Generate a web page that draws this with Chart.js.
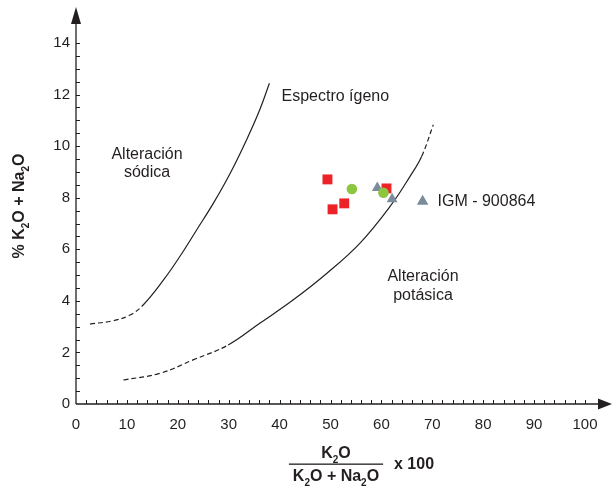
<!DOCTYPE html>
<html>
<head>
<meta charset="utf-8">
<script src="https://cdn.jsdelivr.net/npm/chart.js@4.4.1/dist/chart.umd.min.js"></script>
<style>
  html, body { margin: 0; padding: 0; background: #fff; }
  #wrap { width: 613px; height: 489px; }
</style>
</head>
<body>
<div id="wrap"><canvas id="grafico" width="613" height="489"></canvas></div>
<script>
// Curva límite sódica (la parte baja va punteada)
const sodicaX = [2.75, 7.3, 10.6, 13.2, 17.2, 20.4, 23.7, 27.0, 30.3, 33.5, 36.1, 38.0];
const sodicaY = [3.10, 3.23, 3.45, 3.84, 4.81, 5.72, 6.75, 7.79, 8.95, 10.24, 11.41, 12.44];
const sodicaDashHasta = 13.2;

// Curva límite potásica (punteada al inicio y al final)
const potasicaX = [9.3, 16.5, 23.0, 29.9, 36.1, 42.7, 49.3, 55.8, 61.7, 65.6, 67.9, 70.2];
const potasicaY = [0.93, 1.19, 1.71, 2.29, 3.13, 4.04, 5.07, 6.24, 7.66, 8.82, 9.60, 10.83];
const potasicaDashHasta = 29.9;
const potasicaDashDesde = 67.9;

// Muestras
const rojosX = [49.4, 50.4, 52.7, 61.0];
const rojosY = [8.71, 7.55, 7.78, 8.36];
const verdesX = [54.2, 60.4];
const verdesY = [8.34, 8.19];
const igmX = [59.2, 62.1];
const igmY = [8.38, 7.95];
const igmNombre = "IGM - 900864";

// Ticks
const xTicks = [0, 10, 20, 30, 40, 50, 60, 70, 80, 90, 100];
const yTicks = [0, 2, 4, 6, 8, 10, 12, 14];

const TXT = "#231f20";
const FUENTE = '"Liberation Sans", Arial, Helvetica, sans-serif';

const pares = (xs, ys) => xs.map((x, i) => ({ x, y: ys[i] }));

// Texto con subíndices: partes = [[texto, esSub], ...]
function textoSub(ctx, partes, x, y, size, align) {
  const fN = `bold ${size}px ${FUENTE}`;
  const fS = `bold ${Math.round(size * 0.62)}px ${FUENTE}`;
  let w = 0;
  partes.forEach(([t, s]) => { ctx.font = s ? fS : fN; w += ctx.measureText(t).width; });
  let cx = align === "center" ? x - w / 2 : x;
  ctx.textAlign = "left";
  partes.forEach(([t, s]) => {
    ctx.font = s ? fS : fN;
    ctx.fillText(t, cx, s ? y + size * 0.3 : y);
    cx += ctx.measureText(t).width;
  });
  return w;
}

// Ejes con flechas y ticks menores
const ejes = {
  id: "ejes",
  beforeDatasetsDraw(chart) {
    const { ctx, scales: { x, y } } = chart;
    const x0 = x.getPixelForValue(0), y0 = y.getPixelForValue(0);
    ctx.save();
    ctx.strokeStyle = TXT; ctx.fillStyle = TXT; ctx.lineWidth = 1.3;
    ctx.beginPath();
    ctx.moveTo(x0, y0); ctx.lineTo(600, y0);
    ctx.moveTo(x0, y0); ctx.lineTo(x0, 20);
    ctx.stroke();
    // flechas
    ctx.beginPath(); ctx.moveTo(612, y0); ctx.lineTo(598, y0 - 5.5); ctx.lineTo(598, y0 + 5.5); ctx.closePath(); ctx.fill();
    ctx.beginPath(); ctx.moveTo(x0, 7); ctx.lineTo(x0 - 5, 24); ctx.lineTo(x0 + 5, 24); ctx.closePath(); ctx.fill();
    // ticks menores hacia adentro
    ctx.lineWidth = 1;
    ctx.beginPath();
    for (let v = 2; v <= 100; v += 2) {
      const px = Math.round(x.getPixelForValue(v)) + 0.5;
      ctx.moveTo(px, y0); ctx.lineTo(px, y0 - 4);
    }
    for (let v = 0.5; v <= 14; v += 0.5) {
      const py = Math.round(y.getPixelForValue(v)) + 0.5;
      ctx.moveTo(x0, py); ctx.lineTo(x0 + 4, py);
    }
    ctx.stroke();
    ctx.restore();
  },
  afterDraw(chart) {
    const { ctx, scales: { x, y } } = chart;
    ctx.save();
    ctx.fillStyle = TXT;
    ctx.textBaseline = "alphabetic";

    // título eje Y (rotado)
    ctx.save();
    ctx.translate(24, 206);
    ctx.rotate(-Math.PI / 2);
    textoSub(ctx, [["% K", 0], ["2", 1], ["O + Na", 0], ["2", 1], ["O", 0]], 0, 0, 16, "center");
    ctx.restore();

    // título eje X (fracción)
    const cx = 336;
    textoSub(ctx, [["K", 0], ["2", 1], ["O", 0]], cx, 458, 16, "center");
    const wd = textoSub(ctx, [["K", 0], ["2", 1], ["O + Na", 0], ["2", 1], ["O", 0]], cx, 481, 16, "center");
    ctx.fillRect(cx - wd / 2 - 4, 463.5, wd + 8, 1.3);
    textoSub(ctx, [["x 100", 0]], 394, 469, 16, "left");

    // rótulos de las zonas
    ctx.font = `16px ${FUENTE}`;
    ctx.textAlign = "left";
    ctx.fillText("Espectro ígeno", 281.5, 101);
    ctx.textAlign = "center";
    ctx.fillText("Alteración", 147, 158.5);
    ctx.fillText("sódica", 147, 176.5);
    ctx.fillText("Alteración", 423, 281);
    ctx.fillText("potásica", 423, 299.5);

    // leyenda IGM
    const lx = x.getPixelForValue(68.1), ly = y.getPixelForValue(7.86);
    ctx.fillStyle = "#7b8d9c";
    Chart.helpers.drawPoint(ctx, { pointStyle: "triangle", radius: 6.3, rotation: 0 }, lx, ly);
    ctx.fill();
    ctx.fillStyle = TXT;
    ctx.textAlign = "left";
    ctx.fillText(igmNombre, 437.5, 205.5);
    ctx.restore();
  }
};

const curva = (data, dashFn) => ({
  type: "line",
  data,
  showLine: true,
  borderColor: TXT,
  borderWidth: 1.2,
  pointRadius: 0,
  tension: 0.4,
  fill: false,
  order: 5,
  segment: { borderDash: (c) => dashFn(c.p0.parsed.x, c.p1.parsed.x) ? [5, 3] : undefined }
});

new Chart(document.getElementById("grafico"), {
  type: "scatter",
  data: {
    datasets: [
      curva(pares(sodicaX, sodicaY), (a, b) => b <= sodicaDashHasta),
      curva(pares(potasicaX, potasicaY), (a, b) => b <= potasicaDashHasta || a >= potasicaDashDesde),
      {
        data: pares(rojosX, rojosY),
        pointStyle: "rect", pointRadius: 7, pointBorderWidth: 0,
        backgroundColor: "#ec2227", borderColor: "#ec2227", order: 4
      },
      {
        data: pares(igmX, igmY),
        pointStyle: "triangle", pointRadius: 6.3, pointBorderWidth: 0,
        backgroundColor: "#7b8d9c", borderColor: "#7b8d9c", order: 3
      },
      {
        data: pares(verdesX, verdesY),
        pointStyle: "circle", pointRadius: 5.3, pointBorderWidth: 0,
        backgroundColor: "#8cc63f", borderColor: "#8cc63f", order: 2
      }
    ]
  },
  options: {
    responsive: false,
    animation: false,
    layout: { padding: { top: 43, right: 28, left: 0, bottom: 0 } },
    plugins: { legend: { display: false }, tooltip: { enabled: false } },
    scales: {
      x: {
        type: "linear", min: 0, max: 100,
        afterBuildTicks: (s) => { s.ticks = xTicks.map((v) => ({ value: v })); },
        afterFit: (s) => { s.height = 85; },
        grid: { display: false, drawTicks: false },
        border: { display: false },
        ticks: { color: TXT, padding: 12, font: { size: 15, family: FUENTE } }
      },
      y: {
        type: "linear", min: 0, max: 14,
        afterBuildTicks: (s) => { s.ticks = yTicks.map((v) => ({ value: v })); },
        afterFit: (s) => { s.width = 76; },
        grid: { display: false, drawTicks: false },
        border: { display: false },
        ticks: { color: TXT, padding: 6, font: { size: 15, family: FUENTE } }
      }
    }
  },
  plugins: [ejes]
});
</script>
</body>
</html>
